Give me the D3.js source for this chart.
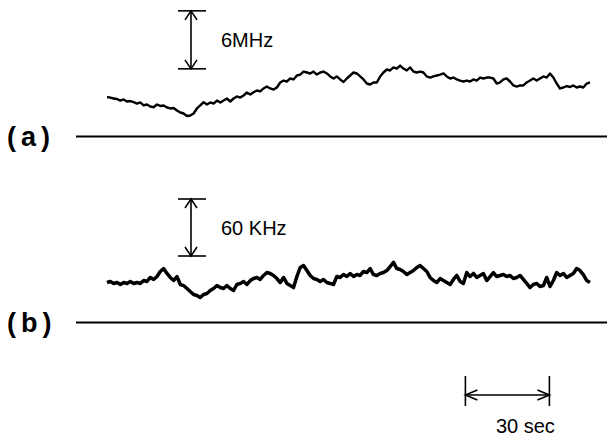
<!DOCTYPE html>
<html>
<head>
<meta charset="utf-8">
<script src="https://cdn.jsdelivr.net/npm/d3@7"></script>
<style>
  html, body { margin: 0; padding: 0; background: #fff; }
  svg { display: block; }
  text { font-family: "Liberation Sans", Arial, sans-serif; fill: #000; }
</style>
</head>
<body>
<svg id="chart" width="607" height="439"></svg>
<script>
// trace (a): frequency in MHz above the reference line, one sample every ~1.19 s
const traceA = [4.07, 4.03, 3.93, 3.88, 3.72, 3.83, 3.62, 3.67, 3.55, 3.41, 3.52, 3.21, 3.31, 3.10, 3.03, 3.31,
    3.16, 3.21, 3.00, 2.90, 2.95, 2.69, 2.48, 2.38, 2.12, 2.17, 2.38, 2.90, 3.21, 3.55, 3.31, 3.52,
    3.41, 3.72, 3.52, 3.72, 3.93, 3.62, 3.93, 4.14, 4.03, 4.24, 4.55, 4.34, 4.58, 4.76, 4.66, 4.97,
    5.17, 4.97, 4.86, 5.07, 5.59, 5.79, 5.69, 6.00, 5.90, 6.31, 6.41, 6.72, 6.62, 6.52, 6.72, 6.41,
    6.62, 6.72, 6.52, 6.21, 6.00, 6.21, 5.90, 5.64, 6.00, 6.31, 6.62, 6.52, 6.21, 5.90, 5.48, 5.38,
    5.59, 5.59, 6.21, 6.62, 6.93, 6.83, 7.14, 7.03, 7.34, 7.03, 6.83, 7.14, 6.72, 6.62, 6.72, 6.62,
    6.21, 6.10, 6.21, 6.31, 6.41, 6.52, 6.21, 6.00, 6.10, 5.90, 5.79, 5.69, 5.79, 5.69, 5.90, 5.79,
    6.10, 6.00, 6.10, 6.10, 6.00, 5.48, 5.59, 5.90, 6.00, 5.69, 5.28, 5.17, 5.28, 5.28, 5.59, 5.79,
    6.00, 5.79, 6.00, 6.21, 6.10, 6.52, 6.10, 5.48, 4.97, 5.07, 5.22, 5.12, 5.28, 5.07, 5.17, 5.07,
    5.48, 5.59]

// trace (b): frequency in kHz above the reference line, same sampling
const traceB = [42.1, 43.2, 41.1, 42.1, 40.0, 42.1, 41.1, 43.2, 41.1, 42.1, 41.1, 44.2, 43.2, 47.4, 45.3, 48.4,
    53.7, 56.8, 51.6, 47.4, 44.2, 48.4, 40.0, 38.9, 35.8, 32.6, 29.5, 28.4, 26.3, 29.5, 30.5, 33.7,
    35.8, 38.9, 36.8, 35.8, 38.9, 35.8, 33.7, 40.0, 41.1, 43.2, 40.0, 44.2, 46.3, 47.4, 45.3, 49.5,
    52.6, 51.6, 49.5, 46.3, 42.1, 47.4, 41.1, 38.9, 36.8, 48.4, 57.9, 60.0, 54.7, 49.5, 46.3, 45.3,
    43.2, 45.3, 42.1, 41.1, 40.0, 48.4, 47.4, 50.5, 48.4, 51.6, 48.4, 50.5, 49.5, 53.7, 52.6, 56.8,
    50.5, 49.5, 51.6, 52.6, 54.7, 58.9, 63.2, 56.8, 55.8, 53.7, 50.5, 52.6, 54.7, 57.9, 60.0, 56.8,
    53.7, 47.4, 44.2, 42.1, 46.3, 44.2, 42.1, 40.0, 45.3, 49.5, 43.2, 41.1, 52.6, 48.4, 51.6, 47.4,
    49.5, 51.6, 44.2, 48.4, 52.6, 48.4, 49.5, 50.5, 48.4, 49.5, 46.3, 47.4, 49.5, 45.3, 41.1, 36.8,
    40.0, 41.1, 37.9, 38.9, 47.4, 37.9, 44.2, 52.6, 49.5, 51.6, 47.4, 49.5, 51.6, 56.8, 54.7, 50.5,
    44.2, 42.1]

const duration = 172.5            // seconds covered by the recording
const panelLabels = ['(a)', '(b)']
const scaleLabels = ['6MHz', '60 KHz']
const scaleBarA = [7, 13]         // MHz
const scaleBarB = [70, 130]       // kHz
const timeBar = [128, 158]        // seconds
const timeLabel = '30 sec'

const svg = d3.select('#chart')

const x = d3.scaleLinear().domain([0, duration]).range([107, 590])
const yA = d3.scaleLinear().domain([0, 6]).range([136.5, 78.5])
const yB = d3.scaleLinear().domain([0, 60]).range([322.5, 265.5])

function drawPanel(values, y, label, bar, barLabel, width) {
    const t = i => i * duration / (values.length - 1)
    const path = d3.line()
        .x((d, i) => x(t(i)))
        .y(d => y(d))

    // reference line
    svg.append('line')
        .attr('x1', 76).attr('x2', 607)
        .attr('y1', y(0)).attr('y2', y(0))
        .attr('stroke', '#000')
        .attr('stroke-width', 2)

    svg.append('text')
        .attr('x', 7)
        .attr('y', y(0) + 9)
        .style('font-size', '27px')
        .style('font-weight', 'bold')
        .style('letter-spacing', '5px')
        .text(label)

    svg.append('path')
        .datum(values)
        .attr('d', path)
        .attr('fill', 'none')
        .attr('stroke', '#000')
        .attr('stroke-width', width)
        .attr('stroke-linejoin', 'round')

    // vertical scale bar with outward arrows
    const bx = 191
    const top = y(bar[1]), bottom = y(bar[0])
    const g = svg.append('g')
        .attr('fill', 'none')
        .attr('stroke', '#000')
        .attr('stroke-width', 1.6)
    g.append('line').attr('x1', bx).attr('x2', bx).attr('y1', top).attr('y2', bottom)
    g.append('line').attr('x1', bx - 13).attr('x2', bx + 15).attr('y1', top).attr('y2', top)
    g.append('line').attr('x1', bx - 13).attr('x2', bx + 15).attr('y1', bottom).attr('y2', bottom)
    g.append('path').attr('d', `M${bx - 6},${top + 9}L${bx},${top}L${bx + 6},${top + 9}`)
    g.append('path').attr('d', `M${bx - 6},${bottom - 9}L${bx},${bottom}L${bx + 6},${bottom - 9}`)

    svg.append('text')
        .attr('x', bx + 30)
        .attr('y', (top + bottom) / 2 + 7)
        .style('font-size', '20px')
        .text(barLabel)
}

drawPanel(traceA, yA, panelLabels[0], scaleBarA, scaleLabels[0], 2.4)
drawPanel(traceB, yB, panelLabels[1], scaleBarB, scaleLabels[1], 3.5)

// time scale bar
const x0 = x(timeBar[0]), x1 = x(timeBar[1])
const tb = svg.append('g')
    .attr('fill', 'none')
    .attr('stroke', '#000')
    .attr('stroke-width', 1.6)
tb.append('line').attr('x1', x0).attr('x2', x0).attr('y1', 376).attr('y2', 406)
tb.append('line').attr('x1', x1).attr('x2', x1).attr('y1', 376).attr('y2', 406)
tb.append('line').attr('x1', x0).attr('x2', x1).attr('y1', 395).attr('y2', 395)
tb.append('path').attr('d', `M${x0 + 12},${390}L${x0},${395}L${x0 + 12},${400}`)
tb.append('path').attr('d', `M${x1 - 12},${390}L${x1},${395}L${x1 - 12},${400}`)

svg.append('text')
    .attr('x', (x0 + x1) / 2 + 18)
    .attr('y', 433)
    .attr('text-anchor', 'middle')
    .style('font-size', '20px')
    .text(timeLabel)
</script>
</body>
</html>
